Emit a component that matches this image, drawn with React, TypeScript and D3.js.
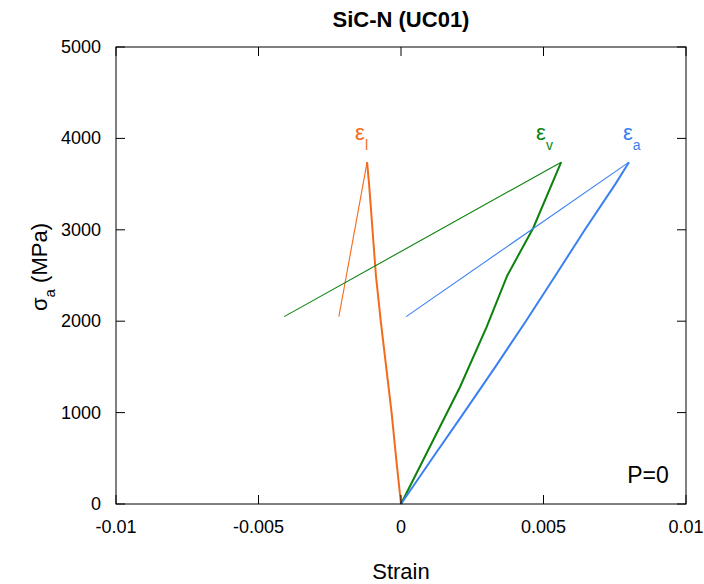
import * as React from "react";
import * as d3 from "d3";

// loading branches, stress (MPa) / strain
const stressL = [0, 500, 1000, 1500, 2000, 2500, 3000, 3500, 3740];
const strainL = [0, -0.00017, -0.00033, -0.00052, -0.00071, -0.00088, -0.00100, -0.00112, -0.00119];
const stressA = [0, 500, 1000, 1500, 2000, 2500, 3000, 3500, 3740];
const strainA = [0, 0.0011, 0.00221, 0.00331, 0.00438, 0.00542, 0.00645, 0.00752, 0.0080];
const stressV = [0, 1280, 1940, 2500, 3020, 3740];
const strainV = [0, 0.00207, 0.00301, 0.00373, 0.00464, 0.00562];

// unloading lines (peak -> end)
const unloadStress = [3740, 2050];
const unloadL = [-0.00119, -0.00218];
const unloadA = [0.0080, 0.00018];
const unloadV = [0.00562, -0.0041];

const xTicks = [-0.01, -0.005, 0, 0.005, 0.01];
const xTickLabels = ["-0.01", "-0.005", "0", "0.005", "0.01"];
const yTicks = [0, 1000, 2000, 3000, 4000, 5000];

const colL = "#f36a1c";
const colV = "#0b820b";
const colA = "#3a80f2";

const W = 704;
const H = 584;
const left = 116;
const right = 686;
const top = 47;
const bottom = 504;
const font = "Liberation Sans, Arial, sans-serif";

export default function App() {
  const x = d3.scaleLinear().domain([-0.01, 0.01]).range([left, right]);
  const y = d3.scaleLinear().domain([0, 5000]).range([bottom, top]);
  const line = d3
    .line<[number, number]>()
    .x((d) => x(d[0]))
    .y((d) => y(d[1]));

  const series = [
    { stress: stressL, load: strainL, unload: unloadL, color: colL },
    { stress: stressV, load: strainV, unload: unloadV, color: colV },
    { stress: stressA, load: strainA, unload: unloadA, color: colA },
  ];

  const labels = [
    { s: -0.00161, sub: "l", color: colL },
    { s: 0.00474, sub: "v", color: colV },
    { s: 0.00779, sub: "a", color: colA },
  ];

  return (
    <svg
      width={W}
      height={H}
      style={{ position: "absolute", left: 0, top: 0, background: "#fff" }}
      fontFamily={font}
    >
      <text x={x(0)} y={27} textAnchor="middle" fontSize={22} fontWeight="bold">
        SiC-N (UC01)
      </text>

      {series.map((s, i) => (
        <g key={i} fill="none" stroke={s.color}>
          <path
            d={line(s.unload.map((v, j) => [v, unloadStress[j]]) as [number, number][]) || ""}
            strokeWidth={1.1}
          />
          <path
            d={line(s.load.map((v, j) => [v, s.stress[j]]) as [number, number][]) || ""}
            strokeWidth={2}
          />
        </g>
      ))}

      {labels.map((l, i) => (
        <text key={i} x={x(l.s)} y={y(3980)} fill={l.color} fontSize={22}>
          ε
          <tspan dy={10} fontSize={14}>
            {l.sub}
          </tspan>
        </text>
      ))}

      <rect
        x={left}
        y={top}
        width={right - left}
        height={bottom - top}
        fill="none"
        stroke="#000"
        strokeWidth={1}
      />

      {xTicks.map((t, i) => (
        <g key={"x" + i}>
          <line x1={x(t)} x2={x(t)} y1={bottom} y2={bottom - 9} stroke="#000" />
          <line x1={x(t)} x2={x(t)} y1={top} y2={top + 9} stroke="#000" />
          <text x={x(t)} y={bottom + 29} textAnchor="middle" fontSize={18}>
            {xTickLabels[i]}
          </text>
        </g>
      ))}

      {yTicks.map((t) => (
        <g key={"y" + t}>
          <line x1={left} x2={left + 9} y1={y(t)} y2={y(t)} stroke="#000" />
          <line x1={right} x2={right - 9} y1={y(t)} y2={y(t)} stroke="#000" />
          <text x={left - 15} y={y(t) + 6} textAnchor="end" fontSize={18}>
            {t}
          </text>
        </g>
      ))}

      <text x={x(0)} y={579} textAnchor="middle" fontSize={22}>
        Strain
      </text>

      <text transform={`translate(47, 267) rotate(-90)`} textAnchor="middle" fontSize={22}>
        σ<tspan dy={8} fontSize={15}>a</tspan>
        <tspan dy={-8}> (MPa)</tspan>
      </text>

      <text x={648} y={483} textAnchor="middle" fontSize={23}>
        P=0
      </text>
    </svg>
  );
}
